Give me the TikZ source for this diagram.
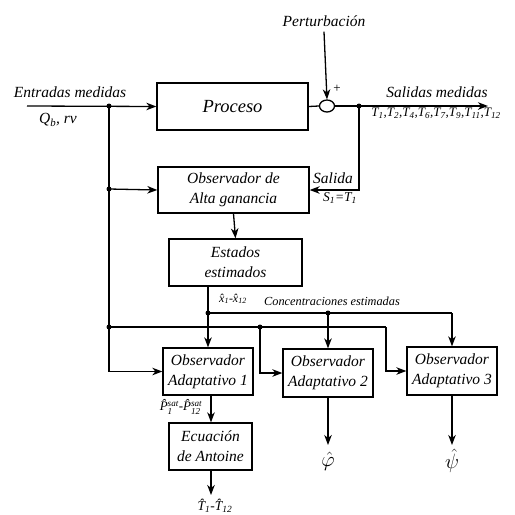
\documentclass[tikz,border=0pt]{standalone}
\usepackage{amsmath}
\usepackage{fontspec}
\setmainfont{Liberation Serif}
\usetikzlibrary{arrows.meta,shapes.geometric}
\newcommand{\boxfont}{\itshape\fontsize{15.5}{20}\selectfont}
\newcommand{\smallfont}{\itshape\fontsize{12}{14}\selectfont}
\newcommand{\ssat}[1]{$^{\text{\itshape sat}}_{\text{\itshape #1}}$}

\tikzset{
	bloque/.style={draw, line width=1.3pt, minimum width=#1, minimum height=47pt, align=center, font=\boxfont, inner sep=0pt},
	flecha/.style={line width=1.3pt, -{Stealth[length=10pt,width=7.5pt,inset=3pt]}},
	linea/.style={line width=1.3pt},
	punto/.style={circle, fill, inner sep=0pt, minimum size=5pt},
	etiq/.style={font=\boxfont, inner sep=0pt},
	etiqp/.style={font=\smallfont, inner sep=0pt}
}

\begin{document}
\begin{tikzpicture}[x=1pt,y=-1pt]
	\useasboundingbox (0,0) rectangle (515,515);

	% bloques
	\node[bloque=151pt, font=\itshape\fontsize{18.5}{22}\selectfont] (proc) at (232.5,106.5) {Proceso};
	\node[draw, ellipse, line width=1.3pt, minimum width=15pt, minimum height=12pt, inner sep=0pt] (sum) at (327,106) {};
	\node[bloque=151pt, minimum height=46pt] (obsag) at (233.5,190) {Observador de\\Alta ganancia};
	\node[bloque=133pt] (est) at (235.5,262.5) {Estados\\estimados};
	\node[bloque=90pt] (obs1) at (208,371.5) {Observador\\Adaptativo 1};
	\node[bloque=83pt] (ant) at (210.5,446.5) {Ecuación\\de Antoine};
	\node[bloque=90pt, minimum height=48pt] (obs2) at (328,373) {Observador\\Adaptativo 2};
	\node[bloque=90pt, minimum height=48pt] (obs3) at (452,371) {Observador\\Adaptativo 3};

	% puntos y extremos
	\coordinate (inl) at (27,106);
	\node[punto] (j1) at (109,106) {};
	\node[punto] (j2) at (359,106) {};
	\coordinate (outr) at (488,106);
	\node[punto] (j3) at (109,189) {};
	\node[punto] (j4) at (208,313) {};
	\node[punto] (j5) at (328,313) {};
	\node[punto] (j6) at (109,327) {};
	\node[punto] (j7) at (260,327) {};
	\coordinate (e1) at (208,286);
	\coordinate (c1) at (452,313);
	\coordinate (c2) at (386,327);
	\coordinate (s1) at (211,495);
	\coordinate (s2) at (328,445);
	\coordinate (s3) at (452,445);

	% textos
	\node[etiq] (pert) at (324,21) {Perturbación};
	\node[etiq] at (70,92) {Entradas medidas};
	\node[etiq] at (58,120) {\textit{Q}\textsubscript{\textit{b}}, \textit{rv}};
	\node[etiq] at (437,92) {Salidas medidas};
	\node[etiqp, font=\itshape\fontsize{13}{15}\selectfont] at (436,113) {T\textsubscript{1},T\textsubscript{2},T\textsubscript{4},T\textsubscript{6},T\textsubscript{7},T\textsubscript{9},T\textsubscript{11},T\textsubscript{12}};
	\node[etiqp, font=\fontsize{13}{14}\selectfont] at (337,89) {+};
	\node[etiq] at (333,178) {Salida};
	\node[etiqp, font=\itshape\fontsize{13.5}{15}\selectfont] at (340,198) {S\textsubscript{1}=T\textsubscript{1}};
	\node[etiqp] at (233,299) {\^{x}\textsubscript{1}-\^{x}\textsubscript{12}};
	\node[etiqp, font=\itshape\fontsize{12.3}{14}\selectfont] at (332,301) {Concentraciones estimadas};
	\node[etiqp, font=\itshape\fontsize{13}{15}\selectfont] at (181,407) {\^{P}\ssat{1}-\^{P}\ssat{12}};
	\node[etiqp, font=\itshape\fontsize{13.5}{15}\selectfont] at (215,506) {\^{T}\textsubscript{1}-\^{T}\textsubscript{12}};
	\node[font=\fontsize{20}{22}\selectfont, inner sep=0pt] at (328,461) {$\hat{\varphi}$};
	\node[font=\fontsize{20}{22}\selectfont, inner sep=0pt] at (452,461) {$\hat{\psi}$};

	% conexiones
	\draw[flecha] (inl) -- (proc.west);
	\draw[linea] (proc.east) -- (sum.west);
	\draw[flecha] (pert.south) ++(0,5) -- (sum.north);
	\draw[flecha] (sum.east) -- (outr);
	\draw[flecha] (j2.center) |- (obsag.east);
	\draw[linea] (j1.center) -- (j3.center) -- (j6.center);
	\draw[flecha] (j6.center) |- (obs1.west);
	\draw[flecha] (j3.center) -- (obsag.west);
	\draw[flecha] (obsag.south) -- (est.north);
	\draw[linea] (e1) -- (j4.center);
	\draw[flecha] (j4.center) -- (obs1.north);
	\draw[linea] (j4.center) -- (j5.center) -- (c1);
	\draw[flecha] (j5.center) -- (obs2.north);
	\draw[flecha] (c1) -- (obs3.north);
	\draw[linea] (j6.center) -- (c2);
	\draw[flecha] (c2) |- (obs3.west);
	\draw[flecha] (j7.center) |- (obs2.west);
	\draw[flecha] (obs1.south -| s1) -- (ant.north -| s1);
	\draw[flecha] (ant.south -| s1) -- (s1);
	\draw[flecha] (obs2.south) -- (s2);
	\draw[flecha] (obs3.south) -- (s3);

\end{tikzpicture}
\end{document}
